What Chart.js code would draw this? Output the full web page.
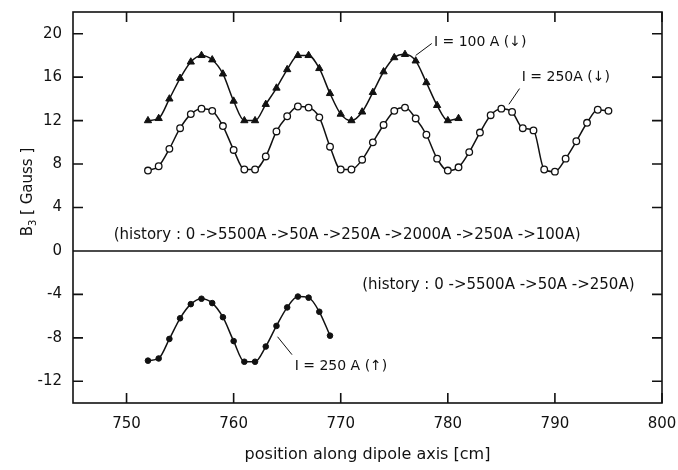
<!DOCTYPE html>
<html>
<head>
<meta charset="utf-8">
<script src="https://cdn.jsdelivr.net/npm/chart.js@4/dist/chart.umd.min.js"></script>
<style>
html,body{margin:0;padding:0;background:#fff;}
#wrap{width:678px;height:470px;position:relative;}
</style>
</head>
<body>
<div id="wrap"><canvas id="c" width="678" height="470"></canvas></div>
<script>
// ---- data ----
const xTicks = [750, 760, 770, 780, 790, 800];
const yTicks = [-12, -8, -4, 0, 4, 8, 12, 16, 20];

const pos100Down = [752,753,754,755,756,757,758,759,760,761,762,763,764,765,766,767,768,769,770,771,772,773,774,775,776,777,778,779,780,781];
const b3_100Down = [12.0,12.2,14.0,15.9,17.4,18.0,17.6,16.3,13.8,12.0,12.0,13.5,15.0,16.7,18.0,18.0,16.8,14.5,12.6,12.0,12.8,14.6,16.5,17.8,18.1,17.5,15.5,13.4,12.0,12.2];

const pos250Down = [752,753,754,755,756,757,758,759,760,761,762,763,764,765,766,767,768,769,770,771,772,773,774,775,776,777,778,779,780,781,782,783,784,785,786,787,788,789,790,791,792,793,794,795];
const b3_250Down = [7.4,7.8,9.4,11.3,12.6,13.1,12.9,11.5,9.3,7.5,7.5,8.7,11.0,12.4,13.3,13.2,12.3,9.6,7.5,7.5,8.4,10.0,11.6,12.9,13.2,12.2,10.7,8.5,7.4,7.7,9.1,10.9,12.5,13.1,12.8,11.3,11.1,7.5,7.3,8.5,10.1,11.8,13.0,12.9];

const pos250Up = [752,753,754,755,756,757,758,759,760,761,762,763,764,765,766,767,768,769];
const b3_250Up = [-10.1,-9.9,-8.1,-6.2,-4.9,-4.4,-4.8,-6.1,-8.3,-10.2,-10.2,-8.8,-6.9,-5.2,-4.2,-4.3,-5.6,-7.8];

const labels = {
  i100: 'I = 100 A (\u2193)',
  i250d: 'I = 250A (\u2193)',
  i250u: 'I = 250 A (\u2191)',
  hist1: '(history : 0 ->5500A ->50A ->250A ->2000A ->250A ->100A)',
  hist2: '(history : 0 ->5500A ->50A ->250A)',
  xTitle: 'position along dipole axis [cm]',
  yTitle: 'B',
  ySub: '3',
  yRest: ' [ Gauss ]'
};

// ---- chart ----
const FONT = '"DejaVu Sans", sans-serif';
const INK = '#111';
function pts(xs, ys){ return xs.map((x,i)=>({x:x, y:ys[i]})); }

// annotation anchors in data units: [x, y]
const notes = [
  {text: labels.i100, size: 14, at:[778.7, 19.25], line:[[778.5,19.1],[777.0,18.0]]},
  {text: labels.i250d, size: 14, at:[786.9, 15.95], line:[[786.7,14.95],[785.7,13.5]]},
  {text: labels.i250u, size: 14, at:[765.7, -10.65], line:[[764.1,-7.9],[765.45,-9.55]]},
  {text: labels.hist1, size: 15, at:[748.8, 1.45], line:null},
  {text: labels.hist2, size: 15, at:[772.0, -3.1], line:null}
];

const framePlugin = {
  id: 'frame',
  afterDraw(chart){
    const {ctx, chartArea:a, scales:{x, y}} = chart;
    ctx.save();
    ctx.strokeStyle = INK;
    ctx.lineWidth = 1.6;
    ctx.strokeRect(a.left, a.top, a.right-a.left, a.bottom-a.top);
    const tl = 10;
    ctx.beginPath();
    x.ticks.forEach(t=>{
      const px = x.getPixelForValue(t.value);
      ctx.moveTo(px, a.bottom); ctx.lineTo(px, a.bottom-tl);
      ctx.moveTo(px, a.top); ctx.lineTo(px, a.top+tl);
    });
    y.ticks.forEach(t=>{
      const py = y.getPixelForValue(t.value);
      if (t.value === 0){
        ctx.moveTo(a.left, py); ctx.lineTo(a.right, py);
      } else {
        ctx.moveTo(a.left, py); ctx.lineTo(a.left+tl, py);
        ctx.moveTo(a.right, py); ctx.lineTo(a.right-tl, py);
      }
    });
    ctx.stroke();

    // annotations
    ctx.fillStyle = INK;
    ctx.textBaseline = 'middle';
    ctx.textAlign = 'left';
    ctx.lineWidth = 1;
    notes.forEach(n=>{
      ctx.font = n.size + 'px ' + FONT;
      ctx.fillText(n.text, x.getPixelForValue(n.at[0]), y.getPixelForValue(n.at[1]));
      if (n.line){
        ctx.beginPath();
        ctx.moveTo(x.getPixelForValue(n.line[0][0]), y.getPixelForValue(n.line[0][1]));
        ctx.lineTo(x.getPixelForValue(n.line[1][0]), y.getPixelForValue(n.line[1][1]));
        ctx.stroke();
      }
    });

    // axis titles
    ctx.font = '16px ' + FONT;
    ctx.textAlign = 'center';
    ctx.fillText(labels.xTitle, (a.left+a.right)/2, 455);
    ctx.translate(28, 192);
    ctx.rotate(-Math.PI/2);
    const f1 = '15px ' + FONT, f2 = '10px ' + FONT;
    ctx.font = f1; const w1 = ctx.measureText(labels.yTitle).width;
    const w3 = ctx.measureText(labels.yRest).width;
    ctx.font = f2; const w2 = ctx.measureText(labels.ySub).width;
    let sx = -(w1+w2+w3)/2;
    ctx.textAlign = 'left';
    ctx.font = f1; ctx.fillText(labels.yTitle, sx, 0); sx += w1;
    ctx.font = f2; ctx.fillText(labels.ySub, sx, 5); sx += w2;
    ctx.font = f1; ctx.fillText(labels.yRest, sx, 0);
    ctx.restore();
  }
};

const common = {borderColor: INK, borderWidth: 1.5, tension: 0.4, cubicInterpolationMode: 'monotone', showLine: true};

new Chart(document.getElementById('c'), {
  type: 'scatter',
  data: {
    datasets: [
      Object.assign({label: labels.i100, data: pts(pos100Down, b3_100Down), pointStyle: 'triangle', pointRadius: 4.2, backgroundColor: INK, pointBorderColor: INK, pointBorderWidth: 1}, common),
      Object.assign({label: labels.i250d, data: pts(pos250Down, b3_250Down), pointStyle: 'circle', pointRadius: 3.3, backgroundColor: '#fff', pointBackgroundColor: '#fff', pointBorderColor: INK, pointBorderWidth: 1.3}, common),
      Object.assign({label: labels.i250u, data: pts(pos250Up, b3_250Up), pointStyle: 'circle', pointRadius: 2.8, backgroundColor: INK, pointBorderColor: INK, pointBorderWidth: 1}, common)
    ]
  },
  options: {
    responsive: false,
    animation: false,
    layout: {padding: {top: 12, right: 16, left: 0, bottom: 0}},
    plugins: {legend: {display: false}, tooltip: {enabled: false}},
    scales: {
      x: {
        type: 'linear', min: 745, max: 800,
        afterBuildTicks(s){ s.ticks = xTicks.map(v=>({value:v})); },
        afterFit(s){ s.height = 67; s.paddingLeft = 0; s.paddingRight = 0; },
        grid: {display: false, drawTicks: false},
        border: {display: false},
        ticks: {color: INK, font: {family: FONT, size: 15}, padding: 12, maxRotation: 0}
      },
      y: {
        type: 'linear', min: -14, max: 22,
        afterBuildTicks(s){ s.ticks = yTicks.map(v=>({value:v})); },
        afterFit(s){ s.width = 73; s.paddingTop = 0; s.paddingBottom = 0; },
        grid: {display: false, drawTicks: false},
        border: {display: false},
        ticks: {color: INK, font: {family: FONT, size: 15}, padding: 11}
      }
    }
  },
  plugins: [framePlugin]
});
</script>
</body>
</html>
